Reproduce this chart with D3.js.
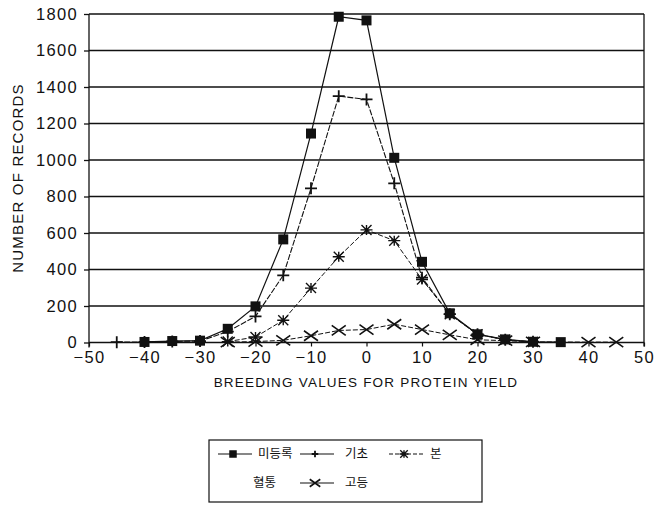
<!DOCTYPE html>
<html>
<head>
<meta charset="utf-8">
<script src="https://cdn.jsdelivr.net/npm/d3@7"></script>
<style>
  html, body { margin: 0; padding: 0; background: #fff; }
  svg { display: block; }
  text { font-family: "Liberation Sans", Arial, sans-serif; fill: #111; }
</style>
</head>
<body>
<svg id="chart" width="657" height="506"></svg>
<script>
// Breeding value classes (protein yield)
const breedingValues = [-45, -40, -35, -30, -25, -20, -15, -10, -5, 0, 5, 10, 15, 20, 25, 30, 35, 40, 45];

// Number of records per class for each registration grade (null = no record)
const unregistered = [null, 3, 8, 10, 75, 198, 565, 1145, 1785, 1765, 1012, 442, 160, 45, 17, 4, 2, null, null];
const foundation   = [2, 3, 6, 8, 60, 143, 368, 845, 1350, 1332, 872, 355, 155, 45, 15, 4, null, null, null];
const pedigree     = [null, null, null, null, 5, 30, 122, 298, 470, 617, 558, 345, 155, 45, 15, 3, null, null, null];
const advanced     = [null, null, null, null, 2, 5, 12, 37, 66, 71, 100, 71, 42, 15, 10, 3, null, 2, 2];

const xTicks = [-50, -40, -30, -20, -10, 0, 10, 20, 30, 40, 50];
const yTicks = [0, 200, 400, 600, 800, 1000, 1200, 1400, 1600, 1800];

const seriesNames = ["미등록", "기초", "본혈통", "고등"];

const svg = d3.select("#chart");
const plotLeft = 89, plotRight = 644, plotTop = 14, plotBottom = 342.5;

const x = d3.scaleLinear().domain([-50, 50]).range([plotLeft, plotRight]);
const y = d3.scaleLinear().domain([0, 1800]).range([plotBottom, plotTop]);

// Horizontal gridlines
svg.append("g").selectAll("line").data(yTicks.slice(1)).join("line")
  .attr("x1", plotLeft).attr("x2", plotRight)
  .attr("y1", d => y(d)).attr("y2", d => y(d))
  .attr("stroke", "#111").attr("stroke-width", 1.3);

// Right border
svg.append("line").attr("x1", plotRight).attr("x2", plotRight)
  .attr("y1", plotTop).attr("y2", plotBottom + 4)
  .attr("stroke", "#111").attr("stroke-width", 1.3);

// Y axis
const yAxis = svg.append("g").attr("transform", `translate(${plotLeft},0)`)
  .call(d3.axisLeft(y).tickValues(yTicks).tickSize(5).tickPadding(6).tickFormat(d3.format("d")));
yAxis.select(".domain").remove();
yAxis.append("line").attr("x1", 0).attr("x2", 0).attr("y1", plotTop).attr("y2", plotBottom + 5)
  .attr("stroke", "#111").attr("stroke-width", 1.3);
yAxis.selectAll(".tick line").attr("stroke", "#111").attr("stroke-width", 1.3);
yAxis.selectAll(".tick text").style("font-size", "16.5px").style("letter-spacing", "1.3px");

// X axis
const xAxis = svg.append("g").attr("transform", `translate(0,${plotBottom})`)
  .call(d3.axisBottom(x).tickValues(xTicks).tickSize(4).tickPadding(5).tickFormat(d => d < 0 ? "\u2212" + Math.abs(d) : d));
xAxis.select(".domain").attr("stroke", "#111").attr("stroke-width", 1.6).attr("d", `M${plotLeft},0H${plotRight}`);
xAxis.selectAll(".tick line").attr("stroke", "#111").attr("stroke-width", 1.2);
xAxis.selectAll(".tick text").style("font-size", "16.5px").style("letter-spacing", "1.3px");

// Axis titles
svg.append("text").attr("x", 366).attr("y", 387).attr("text-anchor", "middle")
  .style("font-size", "13.5px").style("letter-spacing", "1.2px")
  .text("BREEDING VALUES FOR PROTEIN YIELD");
svg.append("text").attr("transform", "translate(23,178) rotate(-90)").attr("text-anchor", "middle")
  .style("font-size", "15px").style("letter-spacing", "1.2px")
  .text("NUMBER OF RECORDS");

// Marker shapes (s scales the glyph)
function drawMarker(g, kind, cx, cy, s = 1) {
  if (kind === "square") {
    g.append("rect").attr("x", cx - 5 * s).attr("y", cy - 5 * s).attr("width", 10 * s).attr("height", 10 * s).attr("fill", "#111");
  } else if (kind === "plus") {
    g.append("path").attr("d", `M${cx - 6 * s},${cy}H${cx + 6 * s}M${cx},${cy - 6 * s}V${cy + 6 * s}`)
      .attr("stroke", "#111").attr("stroke-width", 1.8).attr("fill", "none");
  } else if (kind === "star") {
    g.append("path").attr("d", `M${cx - 6 * s},${cy}H${cx + 6 * s}M${cx},${cy - 5 * s}V${cy + 5 * s}M${cx - 5 * s},${cy - 5 * s}L${cx + 5 * s},${cy + 5 * s}M${cx - 5 * s},${cy + 5 * s}L${cx + 5 * s},${cy - 5 * s}`)
      .attr("stroke", "#111").attr("stroke-width", 1.4).attr("fill", "none");
  } else if (kind === "cross") {
    g.append("path").attr("d", `M${cx - 7 * s},${cy - 5 * s}L${cx + 7 * s},${cy + 5 * s}M${cx - 7 * s},${cy + 5 * s}L${cx + 7 * s},${cy - 5 * s}`)
      .attr("stroke", "#111").attr("stroke-width", 1.6).attr("fill", "none");
  }
}

const series = [
  { values: unregistered, marker: "square", dash: null, width: 1.2 },
  { values: foundation, marker: "plus", dash: "6,1.5", width: 1.1 },
  { values: pedigree, marker: "star", dash: "5,2", width: 1.0 },
  { values: advanced, marker: "cross", dash: "5,2", width: 1.0 }
];

const line = d3.line().x(d => x(d[0])).y(d => y(d[1]));

// Draw from the smallest series up so the larger ones sit on top
series.slice().reverse().forEach(s => {
  const pts = breedingValues.map((v, i) => [v, s.values[i]]).filter(d => d[1] !== null);
  svg.append("path").datum(pts).attr("d", line)
    .attr("fill", "none").attr("stroke", "#111").attr("stroke-width", s.width)
    .attr("stroke-dasharray", s.dash);
  const g = svg.append("g");
  pts.forEach(d => drawMarker(g, s.marker, x(d[0]), y(d[1])));
});

// Legend
const lg = svg.append("g");
lg.append("rect").attr("x", 209).attr("y", 440).attr("width", 273).attr("height", 62)
  .attr("fill", "none").attr("stroke", "#111").attr("stroke-width", 1.2);

const legendItems = [
  { marker: "square", dash: null, x1: 218, ty: 454 },
  { marker: "plus", dash: null, x1: 300, ty: 454 },
  { marker: "star", dash: "4,2", x1: 389, ty: 454 },
  { marker: "cross", dash: null, x1: 300, ty: 483 }
];
legendItems.forEach(it => {
  lg.append("line").attr("x1", it.x1).attr("x2", it.x1 + 34).attr("y1", it.ty).attr("y2", it.ty)
    .attr("stroke", "#111").attr("stroke-width", 1.1).attr("stroke-dasharray", it.dash);
  drawMarker(lg.append("g"), it.marker, it.x1 + 15, it.ty, it.marker === "plus" ? 0.55 : 0.75);
});
// Korean labels; the long third label wraps onto a second line
const korFont = "'Noto Sans CJK KR', sans-serif";
const legendLabels = [
  { text: seriesNames[0], x: 258, y: 458 },
  { text: seriesNames[1], x: 345, y: 458 },
  { text: seriesNames[2].slice(0, 1), x: 430, y: 458 },
  { text: seriesNames[2].slice(1), x: 253, y: 487 },
  { text: seriesNames[3], x: 345, y: 487 }
];
lg.selectAll("text.lab").data(legendLabels).join("text").attr("class", "lab")
  .attr("x", d => d.x).attr("y", d => d.y)
  .style("font-family", korFont).style("font-size", "12.5px")
  .text(d => d.text);
</script>
</body>
</html>
